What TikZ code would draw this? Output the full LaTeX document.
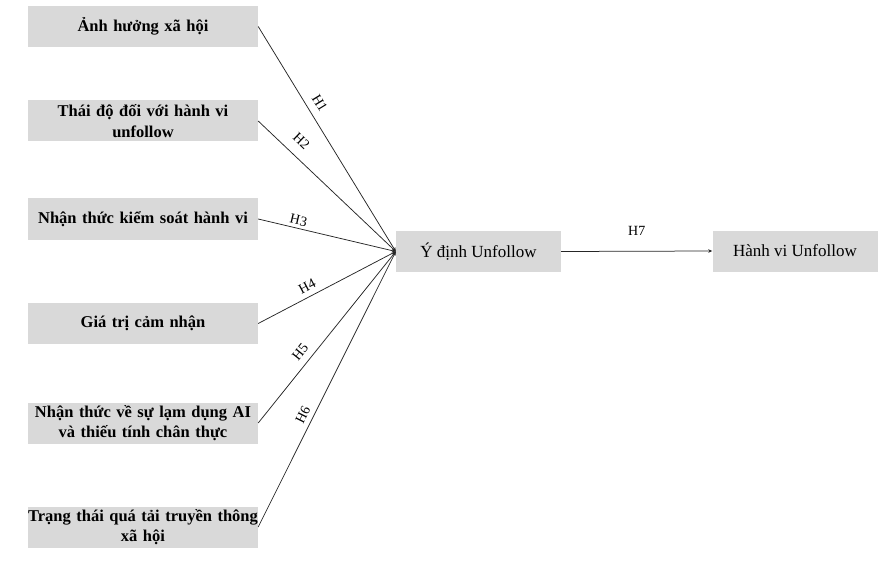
\documentclass[tikz,border=0pt]{standalone}
\usepackage{fontspec}
\setmainfont{Liberation Serif}
\usetikzlibrary{arrows.meta}
\definecolor{boxgray}{HTML}{D9D9D9}
\tikzset{
  leftbox/.style={fill=boxgray, minimum width=230pt, minimum height=41pt, text width=230pt, inner sep=0pt, align=center, font=\bfseries\fontsize{16.5}{20.5}\selectfont},
  midbox/.style={fill=boxgray, minimum width=165pt, minimum height=41pt, inner sep=0pt, align=center, font=\fontsize{17}{20}\selectfont},
  conn/.style={draw=black!85, line width=0.75pt, -{Stealth[length=4pt,width=3.5pt]}},
  hlab/.style={font=\fontsize{14}{15}\selectfont, inner sep=0pt, sloped}
}
\begin{document}
\begin{tikzpicture}[x=1pt,y=-1pt]
\useasboundingbox (0,0) rectangle (883,564);
\node[leftbox] (a1) at (143,26.5) {Ảnh hưởng xã hội};
\node[leftbox] (a2) at (143,121) {Thái độ đối với hành vi\\unfollow};
\node[leftbox] (a3) at (143,219) {Nhận thức kiểm soát hành vi};
\node[leftbox] (a4) at (143,323.5) {Giá trị cảm nhận};
\node[leftbox] (a5) at (143,423) {Nhận thức về sự lạm dụng AI\\và thiếu tính chân thực};
\node[leftbox] (a6) at (143,527) {Trạng thái quá tải truyền thông\\xã hội};
\node[midbox] (m) at (478.5,251.5) {Ý định Unfollow};
\node[midbox] (r) at (795,251) {Hành vi Unfollow};
\draw[conn] (a1.east) -- node[hlab, pos=0.37, above=7.5pt] {H1} (m.west);
\draw[conn] (a2.east) -- node[hlab, pos=0.24, above=10pt] {H2} (m.west);
\draw[conn] (a3.east) -- node[hlab, pos=0.28, above=3pt] {H3} (m.west);
\draw[conn] (a4.east) -- node[hlab, pos=0.39, above=5.5pt] {H4} (m.west);
\draw[conn] (a5.east) -- node[hlab, pos=0.37, above=6.5pt] {H5} (m.west);
\draw[conn] (a6.east) -- node[hlab, pos=0.39, above=5pt] {H6} (m.west);
\draw[conn] (m.east) -- node[hlab, pos=0.5, above=15pt] {H7} (r.west);
\end{tikzpicture}
\end{document}
